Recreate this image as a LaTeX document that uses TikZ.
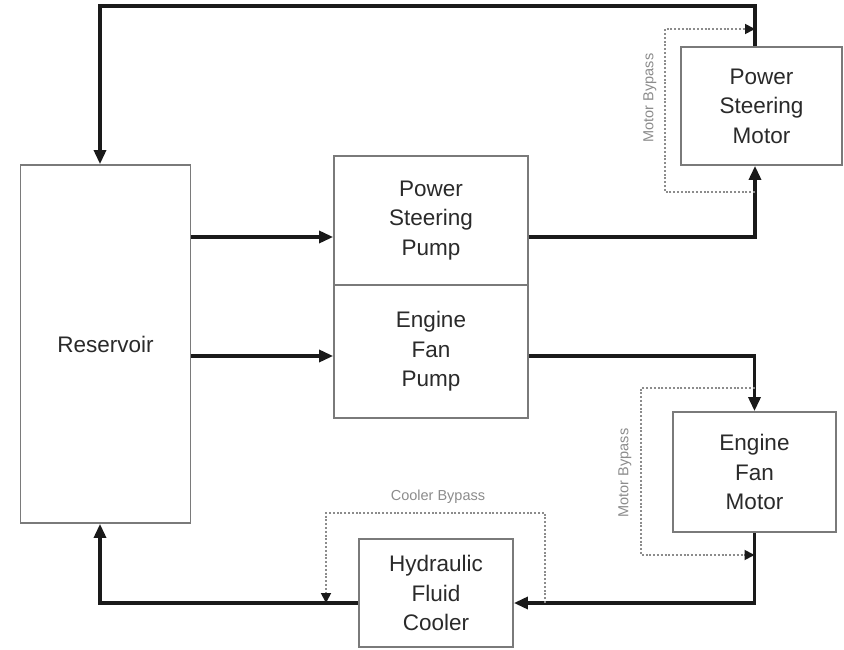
\documentclass[tikz,border=0pt]{standalone}
\usepackage{fontspec}
\setmainfont{Liberation Sans}
\usetikzlibrary{arrows.meta}
\definecolor{boxline}{HTML}{7A7A7A}
\definecolor{txt}{HTML}{2A2A2A}
\definecolor{flowc}{HTML}{1A1A1A}
\definecolor{bypc}{HTML}{8C8C8C}
\begin{document}
\begin{tikzpicture}[x=1pt,y=-1pt,
  blk/.style={draw=boxline,line width=1.8pt,fill=white,rectangle,inner sep=0pt,
    align=center,text=txt,font=\fontsize{22.5}{29.5}\selectfont},
  flow/.style={draw=flowc,line width=3.2pt,-{Triangle[length=14pt,width=12pt]}},
  byp/.style={draw=bypc,line width=1.8pt,dash pattern=on 2pt off 1.8pt,
    -{Triangle[length=10pt,width=10pt,fill=flowc,color=flowc]}},
  lbl/.style={text=bypc,font=\fontsize{14.5}{16}\selectfont,inner sep=0pt}]
\useasboundingbox (0,0) rectangle (844,650);
\fill[white] (0,0) rectangle (844,650);

% blocks
\node[blk,minimum width=170pt,minimum height=358pt] (res) at (105.5,344) {Reservoir};
\node[blk,minimum width=194pt,minimum height=129pt] (psp) at (431,220.5) {Power\\Steering\\Pump};
\node[blk,minimum width=194pt,minimum height=133pt] (efp) at (431,351.5) {Engine\\Fan\\Pump};
\node[blk,minimum width=161pt,minimum height=118pt] (psm) at (761.5,106) {Power\\Steering\\Motor};
\node[blk,minimum width=163pt,minimum height=120pt] (efm) at (754.5,472) {Engine\\Fan\\Motor};
\node[blk,minimum width=154pt,minimum height=108pt] (hfc) at (436,593) {Hydraulic\\Fluid\\Cooler};

% level coordinates
\coordinate (top) at (0,6);
\coordinate (ps) at (755,0);
\coordinate (rx) at (100,0);
\coordinate (l1) at (0,237);
\coordinate (l2) at (0,356);
\coordinate (bot) at (0,603);
\coordinate (psbA) at (0,192);
\coordinate (psbB) at (665,29);
\coordinate (efbA) at (0,388);
\coordinate (efbB) at (641,555);
\coordinate (cbA) at (545,513);
\coordinate (cbB) at (326,0);

% main flows
\draw[flow] (res.east |- l1) -- (psp.west |- l1);
\draw[flow] (res.east |- l2) -- (efp.west |- l2);
\draw[flow] (psp.east |- l1) -- (ps |- l1) -- (ps |- psm.south);
\draw[flow] (efp.east |- l2) -- (efm.north |- l2) -- (efm.north);
\draw[flow] (ps |- psm.north) -- (ps |- top) -- (rx |- top) -- (rx |- res.north);
\draw[flow] (efm.south) -- (efm.south |- bot) -- (hfc.east |- bot);
\draw[flow] (hfc.west |- bot) -- (rx |- bot) -- (rx |- res.south);

% bypasses
\draw[byp] (ps |- psbA) -- (psbB |- psbA) -- (psbB) -- (ps |- psbB);
\draw[byp] (efm.north |- efbA) -- (efbB |- efbA) -- (efbB) -- (efm.north |- efbB);
\draw[byp] (cbA |- bot) -- (cbA) -- (cbB |- cbA) -- (cbB |- bot);

% labels
\node[lbl,rotate=90] (lpsb) at (650,98) {Motor Bypass};
\node[lbl,rotate=90] (lefb) at (625,473) {Motor Bypass};
\node[lbl] (lcb) at (438,497) {Cooler Bypass};
\end{tikzpicture}
\end{document}
